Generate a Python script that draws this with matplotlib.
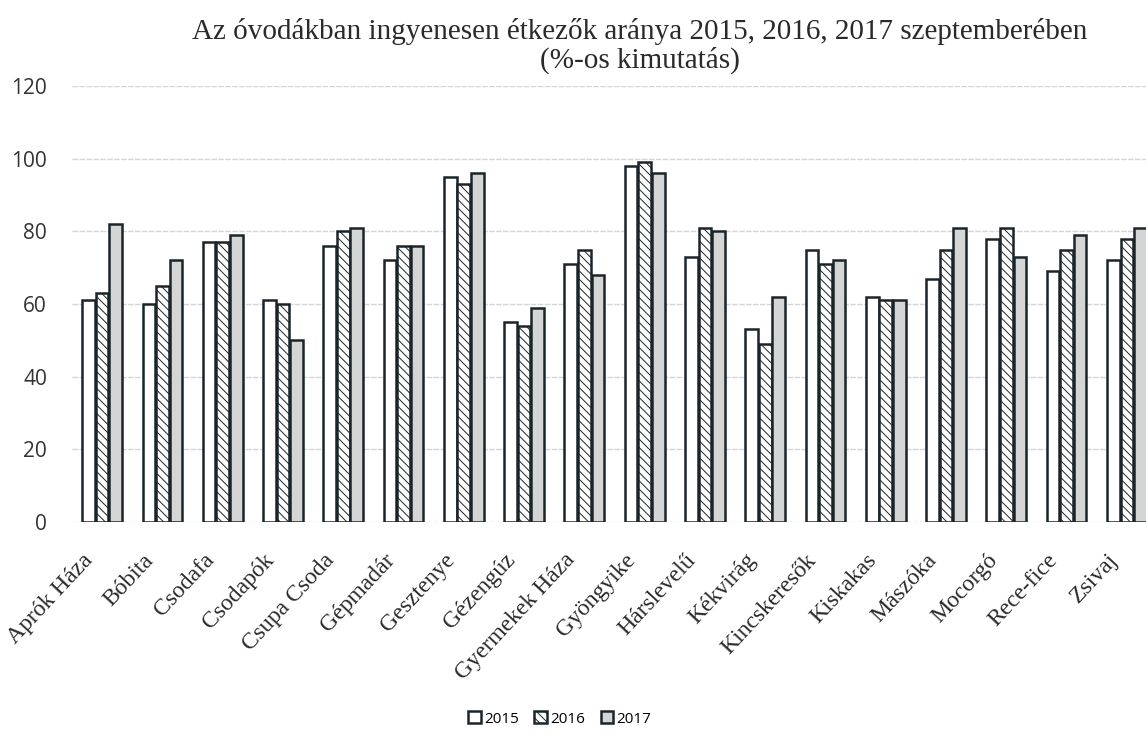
import numpy as np
import matplotlib.pyplot as plt
import matplotlib.transforms as mtransforms

# ---------------------------------------------------------------------------
# DATA
# ---------------------------------------------------------------------------
categories = [
    "Aprók Háza", "Bóbita", "Csodafa", "Csodapók", "Csupa Csoda", "Gépmadár",
    "Gesztenye", "Gézengúz", "Gyermekek Háza", "Gyöngyike", "Hárslevelű",
    "Kékvirág", "Kincskeresők", "Kiskakas", "Mászóka", "Mocorgó",
    "Rece-fice", "Zsivaj",
]
y2015 = [61, 60, 77, 61, 76, 72, 95, 55, 71, 98, 73, 53, 75, 62, 67, 78, 69, 72]
y2016 = [63, 65, 77, 60, 80, 76, 93, 54, 75, 99, 81, 49, 71, 61, 75, 81, 75, 78]
y2017 = [82, 72, 79, 50, 81, 76, 96, 59, 68, 96, 80, 62, 72, 61, 81, 73, 79, 81]
series_labels = ["2015", "2016", "2017"]

title = ("Az óvodákban ingyenesen étkezők aránya 2015, 2016, 2017 szeptemberében\n"
         "(%-os kimutatás)")

# ---------------------------------------------------------------------------
# PLOT
# ---------------------------------------------------------------------------
plt.rcParams["hatch.color"] = "#777777"
plt.rcParams["hatch.linewidth"] = 0.7

fig = plt.figure(figsize=(11.46, 7.40), dpi=100)
ax = fig.add_axes([72 / 1146, 1 - 522 / 740, 1085 / 1146, 436 / 740])

x = np.arange(len(categories))
w = 0.21
edge = "#1b2529"
ax.bar(x - 0.225, y2015, w, color="white", edgecolor=edge, linewidth=1.8,
       label=series_labels[0], zorder=3)
ax.bar(x, y2016, w, color="white", edgecolor=edge, linewidth=1.8,
       hatch="\\\\\\\\", label=series_labels[1], zorder=3)
ax.bar(x + 0.225, y2017, w, color="#d4d6d6", edgecolor=edge, linewidth=1.8,
       label=series_labels[2], zorder=3)

ax.set_xlim(-0.5, len(categories) - 0.5)
ax.set_ylim(0, 120)
ax.set_yticks(range(0, 121, 20))
ax.yaxis.grid(True, color="#d5d5d5", linewidth=1, linestyle=(0, (4, 1)))
ax.set_axisbelow(True)
for s in ax.spines.values():
    s.set_visible(False)
ax.tick_params(length=0)
ax.tick_params(axis="y", labelsize=15, labelcolor="#333333", pad=18)
for t in ax.get_yticklabels():
    t.set_fontfamily("Open Sans")

ax.set_xticks(x)
ax.set_xticklabels(categories, rotation=47, ha="right", rotation_mode="anchor",
                   fontfamily="Liberation Serif", fontsize=17, color="#2a2a2a")
ax.tick_params(axis="x", pad=20)
# labels sit a little left of their bar groups in the scan
shift = mtransforms.ScaledTranslation(-20 / 100, 0, fig.dpi_scale_trans)
for t in ax.get_xticklabels():
    t.set_transform(t.get_transform() + shift)

fig.text(640 / 1146, 1 - 18 / 740, title, ha="center", va="top",
         fontfamily="Liberation Serif", fontsize=21, color="#2a2a2a",
         linespacing=1.1)

fig.legend(loc="center", bbox_to_anchor=(560 / 1146, 1 - 719 / 740), ncol=3,
           frameon=False, prop={"family": "Open Sans", "size": 11},
           handlelength=0.8, handleheight=0.8, handletextpad=0.25,
           columnspacing=1.0)

fig.savefig("out.png", dpi=100)
